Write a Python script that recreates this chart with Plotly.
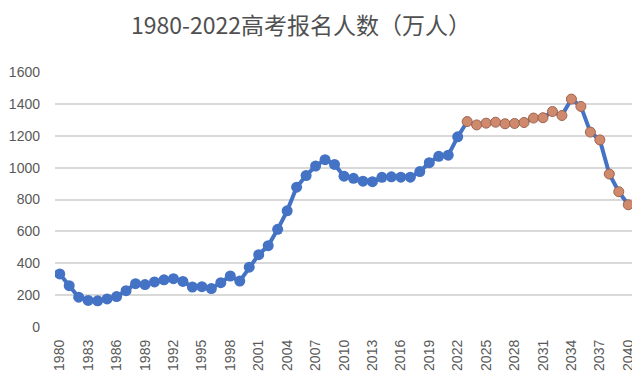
import plotly.graph_objects as go

# Data (万人)
hist_years = list(range(1980, 2023))
hist_values = [333, 259, 187, 167, 164, 176, 191, 228, 272, 266,
               283, 296, 303, 286, 251, 253, 241, 278, 320, 288,
               375, 454, 510, 613, 729, 877, 950, 1010, 1050, 1020,
               946, 933, 915, 912, 939, 942, 940, 940, 975, 1031,
               1071, 1078, 1193]
proj_years = list(range(2023, 2041))
proj_values = [1289, 1268, 1279, 1285, 1275, 1277, 1283, 1311, 1313, 1352,
               1327, 1430, 1384, 1223, 1174, 960, 849, 767]

x_ticks = list(range(1980, 2041, 3))
y_ticks = [0, 200, 400, 600, 800, 1000, 1200, 1400, 1600]
title_text = "1980-2022高考报名人数（万人）"

BLUE = "#4472C4"
ORANGE = "#CF8A6E"

# page body has an 8px default margin; figure is sized to fill the rest
W, H = 632, 371

fig = go.Figure()
fig.add_trace(go.Scatter(
    x=hist_years + proj_years, y=hist_values + proj_values,
    mode="lines", line=dict(color=BLUE, width=4),
    hoverinfo="skip", showlegend=False))
fig.add_trace(go.Scatter(
    x=hist_years, y=hist_values, mode="markers",
    marker=dict(size=11, color=BLUE, line=dict(width=0)),
    showlegend=False))
fig.add_trace(go.Scatter(
    x=proj_years, y=proj_values, mode="markers",
    marker=dict(size=10, color=ORANGE, line=dict(color="#9E6450", width=1)),
    showlegend=False))

fig.update_layout(
    width=W, height=H,
    margin=dict(l=47, r=7, t=64, b=52, autoexpand=False),
    paper_bgcolor="white", plot_bgcolor="white",
    title=dict(text=title_text, x=293 / W, xanchor="center",
               y=1 - 18 / H, yanchor="middle",
               font=dict(family="Noto Sans CJK SC", size=23, color="#505050")),
    xaxis=dict(range=[1979.5, 2040.5], tickvals=x_ticks,
               ticktext=[str(v) for v in x_ticks], tickangle=-90,
               showgrid=False, zeroline=False, showline=False,
               tickfont=dict(family="Liberation Sans", size=14, color="#595959"),
               ticks="", ticklabelstandoff=9, automargin=False),
    yaxis=dict(range=[0, 1600], tickvals=y_ticks,
               showgrid=True, gridcolor="#D9D9D9", gridwidth=1.5,
               zeroline=False, showline=False, ticks="",
               tickfont=dict(family="Liberation Sans", size=14, color="#595959"),
               ticklabelstandoff=14, automargin=False),
    shapes=[dict(type="line", xref="paper", yref="paper",
                 x0=1.0074, x1=1.0074, y0=-0.25, y1=1.3,
                 line=dict(color="#DDDDDD", width=1.5))],
)

fig.write_html("out.html")
